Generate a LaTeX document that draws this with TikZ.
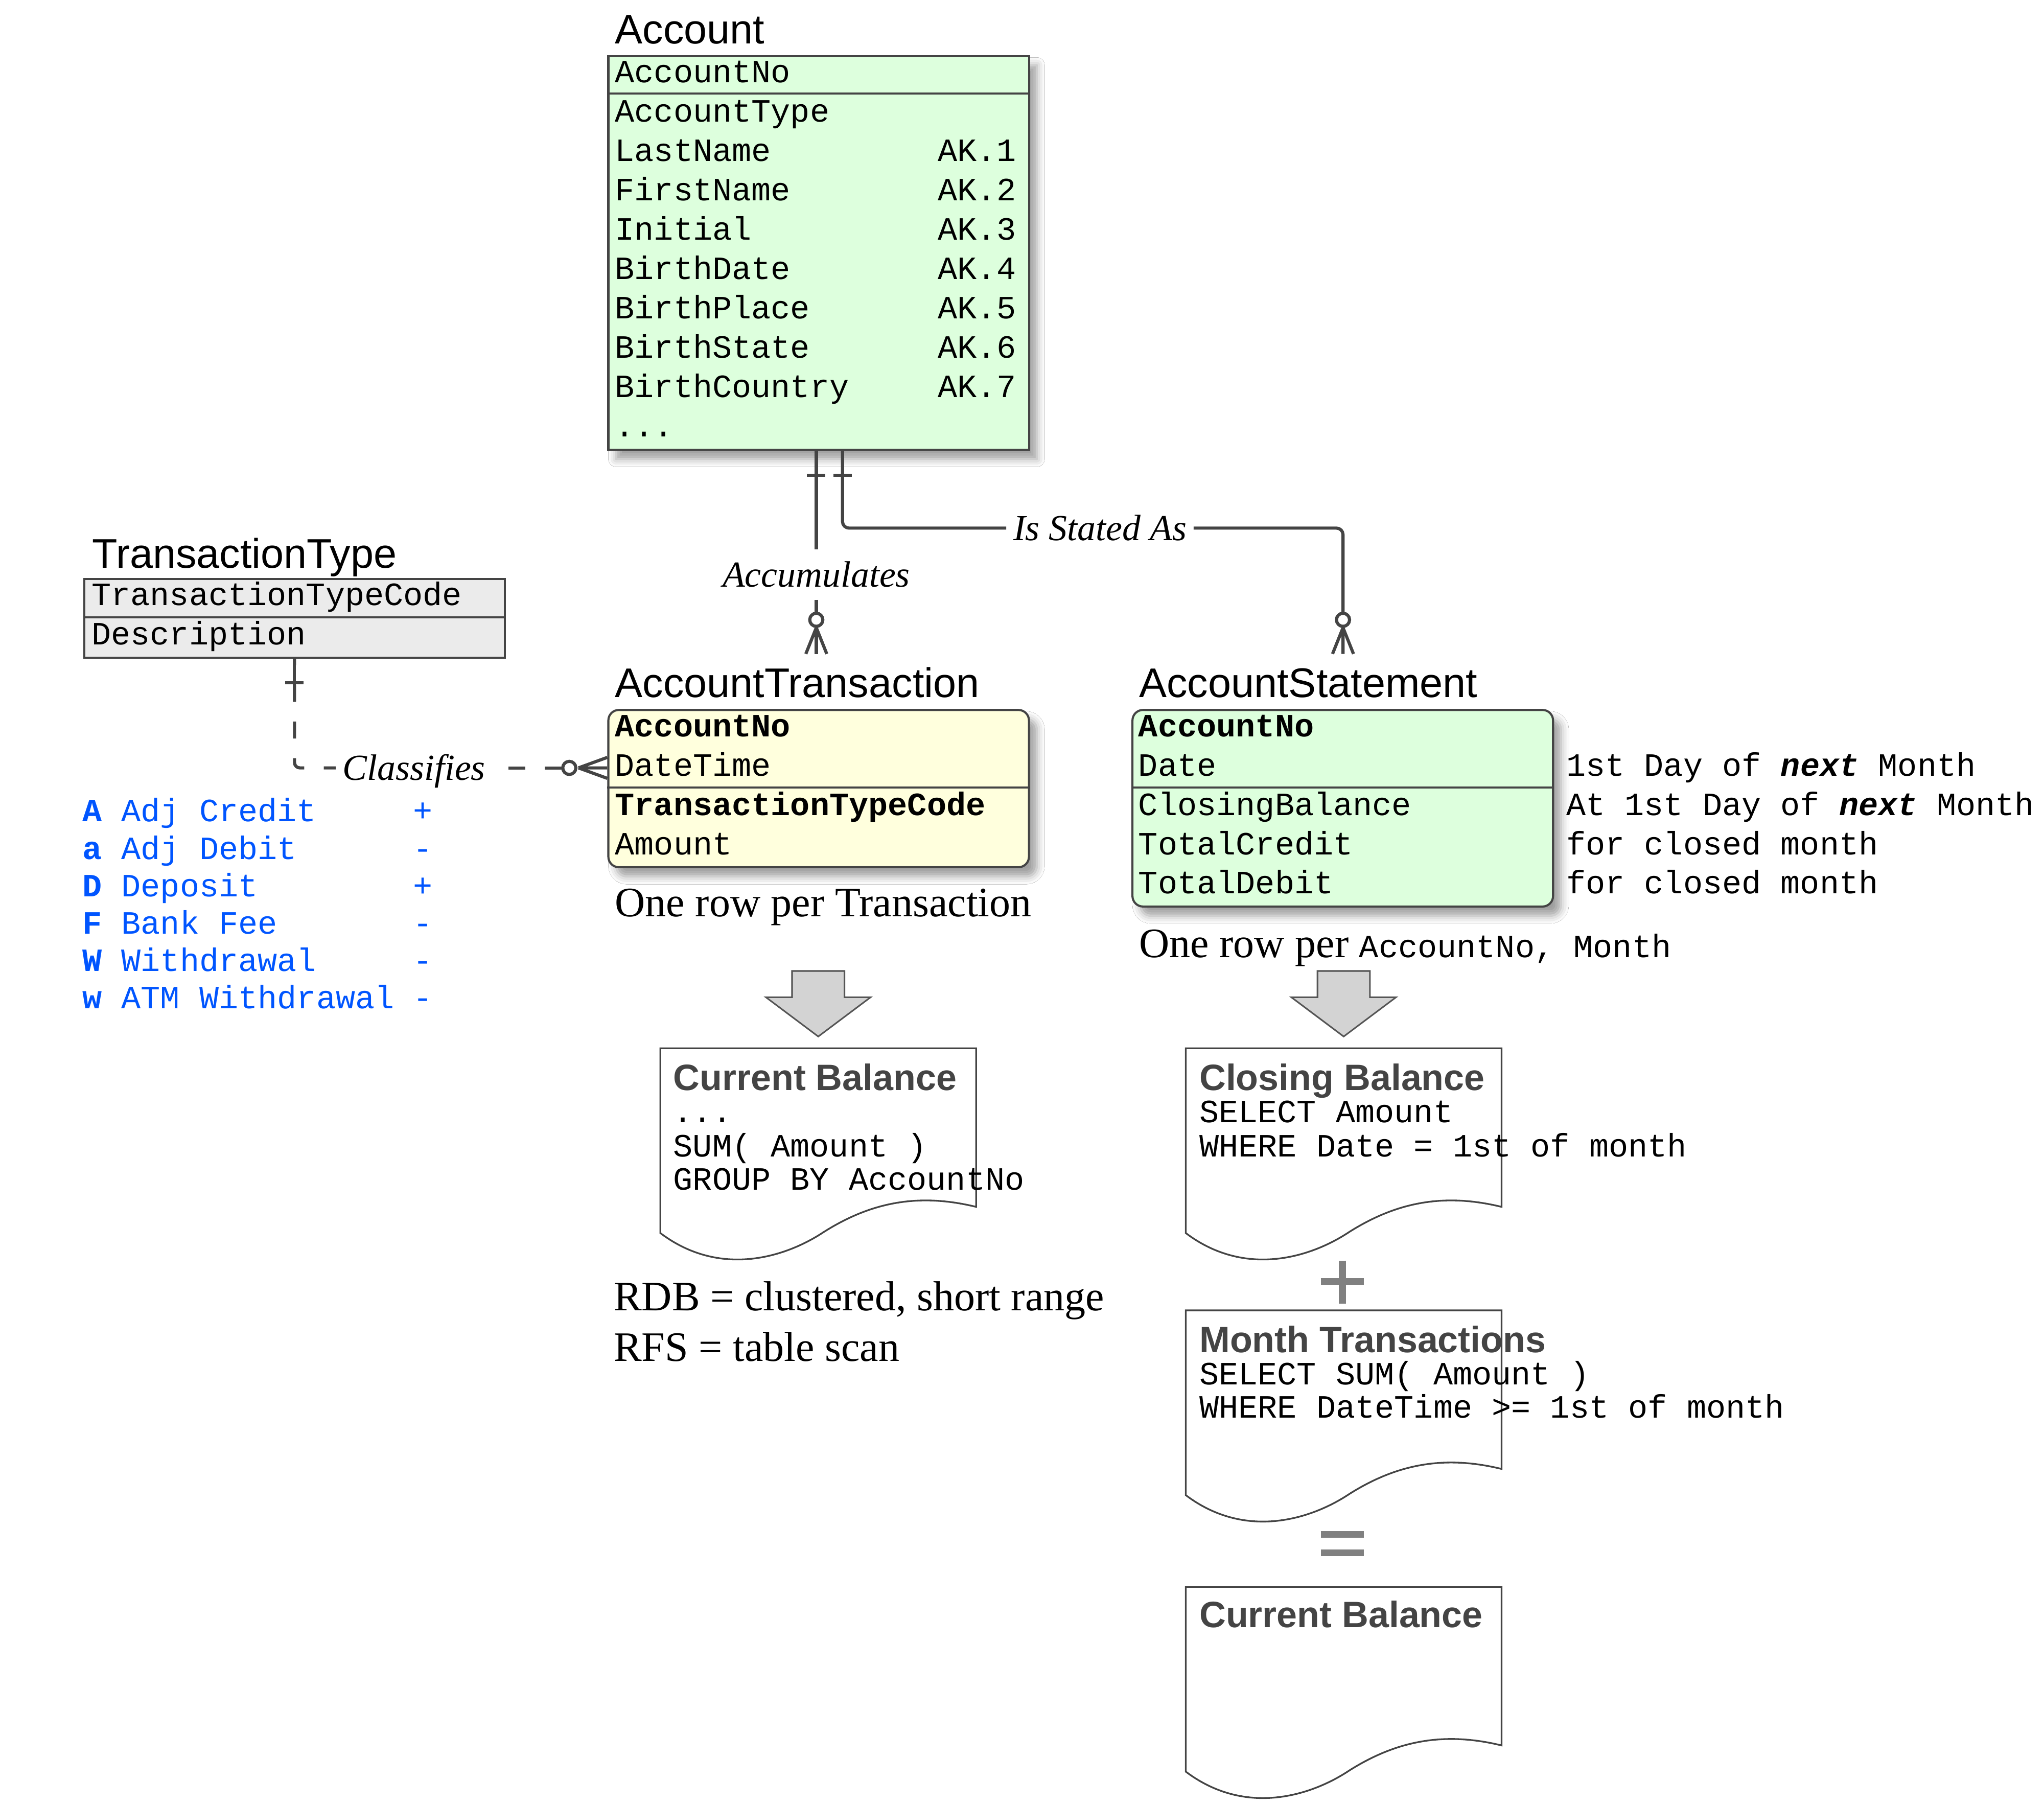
\documentclass[tikz,border=0pt]{standalone}
\usepackage{fontspec}
\setmainfont{Liberation Serif}
\setsansfont{Liberation Sans}
\setmonofont{Liberation Mono}
\usepackage{xcolor}
\usepackage{tikz}
\usetikzlibrary{calc,positioning,shadows.blur}

\definecolor{linegray}{HTML}{444444}
\definecolor{acctgreen}{HTML}{DDFFDD}
\definecolor{transyellow}{HTML}{FFFFDD}
\definecolor{typegray}{HTML}{EBEBEB}
\definecolor{legendblue}{HTML}{0055FF}
\definecolor{arrowfill}{HTML}{D3D3D3}
\definecolor{arrowline}{HTML}{555555}
\definecolor{opgray}{HTML}{808080}

\begin{document}
\begin{tikzpicture}[x=0.5pt, y=-0.5pt,
  entity/.style={draw=linegray, line width=0.8pt, anchor=north west, inner sep=0pt, minimum width=160.5pt},
  shadebox/.style={blur shadow={shadow xshift=3pt, shadow yshift=-3.5pt, shadow blur radius=3pt, shadow opacity=38}},
  title/.style={anchor=west, inner sep=0pt, font=\fontsize{15.8}{18}\sffamily, text height=11.3pt, text depth=0pt},
  field/.style={anchor=west, inner sep=0pt, font=\fontsize{12.4}{15}\ttfamily, text height=7.1pt, text depth=0pt},
  legend/.style={field, text=legendblue},
  note/.style={anchor=west, inner sep=0pt, font=\fontsize{16}{19}\rmfamily, text height=10.6pt, text depth=0pt},
  lab/.style={inner xsep=2.5pt, inner ysep=4.75pt, font=\fontsize{14}{16}\itshape, text height=9.3pt, text depth=0pt},
  conn/.style={draw=linegray, line width=1.2pt},
  conndash/.style={conn, dash pattern=on 6.5pt off 7.5pt},
  sepline/.style={draw=linegray, line width=0.8pt},
  blockarrow/.style={draw=arrowline, fill=arrowfill, line width=0.6pt},
  docline/.style={draw=linegray, line width=0.65pt, fill=white},
  doctitle/.style={anchor=west, inner sep=0pt, font=\fontsize{14}{16}\sffamily\bfseries, text=linegray, text height=10pt, text depth=0pt},
  op/.style={draw=opgray, line width=2.6pt}
]
\fill[white] (0,0) rectangle (1560,1377.1);
\useasboundingbox (0,0) rectangle (1560,1377.1);

% Account
\node[title] (acctTitle) at (469,22) {Account};
\node[entity, fill=acctgreen, shadebox, minimum height=150.25pt] (acct) at (463.5,42) {};
\draw[sepline] (acct.west |- 0,71.5) -- (acct.east |- 0,71.5);
\node[field] (acctNo) at (469,56) {AccountNo};
\node[field] (acctType) at (469,86) {AccountType};
\node[field] (lastName) at (469,116) {LastName};
\node[field] (firstName) at (469,146) {FirstName};
\node[field] (initial) at (469,176) {Initial};
\node[field] (birthDate) at (469,206) {BirthDate};
\node[field] (birthPlace) at (469,236) {BirthPlace};
\node[field] (birthState) at (469,266) {BirthState};
\node[field] (birthCountry) at (469,296) {BirthCountry};
\node[field] (acctMore) at (469,326) {...};
\node[field] (ak1) at (715.5,116) {AK.1};
\node[field] (ak2) at (715.5,146) {AK.2};
\node[field] (ak3) at (715.5,176) {AK.3};
\node[field] (ak4) at (715.5,206) {AK.4};
\node[field] (ak5) at (715.5,236) {AK.5};
\node[field] (ak6) at (715.5,266) {AK.6};
\node[field] (ak7) at (715.5,296) {AK.7};

% TransactionType
\node[title] (ttypeTitle) at (70,422) {TransactionType};
\node[entity, fill=typegray, minimum height=30pt] (ttype) at (63.5,441) {};
\draw[sepline] (ttype.west |- 0,471) -- (ttype.east |- 0,471);
\node[field] (ttCode) at (69.5,455) {TransactionTypeCode};
\node[field] (ttDesc) at (69.5,485) {Description};

% AccountTransaction
\node[title] (transTitle) at (469,521) {AccountTransaction};
\node[entity, fill=transyellow, shadebox, rounded corners=4pt, minimum height=60pt] (trans) at (463.5,541) {};
\draw[sepline] (trans.west |- 0,601) -- (trans.east |- 0,601);
\node[field] (trAcctNo) at (469,555) {\textbf{AccountNo}};
\node[field] (trDateTime) at (469,585) {DateTime};
\node[field] (trCode) at (469,615) {\textbf{TransactionTypeCode}};
\node[field] (trAmount) at (469,645) {Amount};
\node[note] (trRows) at (469,689) {One row per Transaction};

% AccountStatement
\node[title] (stmtTitle) at (869,521) {AccountStatement};
\node[entity, fill=acctgreen, shadebox, rounded corners=4pt, minimum height=75pt] (stmt) at (863.5,541) {};
\draw[sepline] (stmt.west |- 0,601) -- (stmt.east |- 0,601);
\node[field] (stAcctNo) at (868.5,555) {\textbf{AccountNo}};
\node[field] (stDate) at (868.5,585) {Date};
\node[field] (stClosing) at (868.5,615) {ClosingBalance};
\node[field] (stCredit) at (868.5,645) {TotalCredit};
\node[field] (stDebit) at (868.5,675) {TotalDebit};
\node[field] (noteDate) at (1195,585) {1st Day of \textbf{\textit{next}} Month};
\node[field] (noteClosing) at (1195,615) {At 1st Day of \textbf{\textit{next}} Month};
\node[field] (noteCredit) at (1195,645) {for closed month};
\node[field] (noteDebit) at (1195,675) {for closed month};
\node[note] (stRows) at (869,720) {One row per {\fontsize{12.4}{15}\ttfamily AccountNo, Month}};

% legend of transaction types
\node[legend] (lgA) at (62.5,620) {\textbf{A} Adj Credit};
\node[legend] (lga) at (62.5,648.5) {\textbf{a} Adj Debit};
\node[legend] (lgD) at (62.5,677) {\textbf{D} Deposit};
\node[legend] (lgF) at (62.5,705.5) {\textbf{F} Bank Fee};
\node[legend] (lgW) at (62.5,734) {\textbf{W} Withdrawal};
\node[legend] (lgw) at (62.5,762.5) {\textbf{w} ATM Withdrawal};
\node[legend] (sgA) at (315,620) {+};
\node[legend] (sga) at (315,648.5) {-};
\node[legend] (sgD) at (315,677) {+};
\node[legend] (sgF) at (315,705.5) {-};
\node[legend] (sgW) at (315,734) {-};
\node[legend] (sgw) at (315,762.5) {-};

% Accumulates
\node[lab] (accum) at (623,438.5) {Accumulates};
\coordinate (accEnd) at (623,499);
\draw[conn] (acct.south -| accum) -- (accum.north);
\draw[conn] (accum.south) -- (accEnd);
\draw[conn] ($(acct.south -| accum)+(-7,18.5)$) -- ++(14,0);
\draw[conn, fill=white] ($(accEnd)+(0,-26)$) circle (5);
\draw[conn] ($(accEnd)+(0,-20)$) -- ++(-8,20) ($(accEnd)+(0,-20)$) -- ++(8,20);

% Is Stated As
\node[lab] (stated) at (839.5,403) {Is Stated As};
\coordinate (stTop) at ($(acct.south -| accum)+(20,0)$);
\coordinate (stEnd) at (1025,499);
\draw[conn, rounded corners=2.5pt] (stTop) |- (stated.west);
\draw[conn, rounded corners=2.5pt] (stated.east) -| (stEnd);
\draw[conn] ($(stTop)+(-7,18.5)$) -- ++(14,0);
\draw[conn, fill=white] ($(stEnd)+(0,-26)$) circle (5);
\draw[conn] ($(stEnd)+(0,-20)$) -- ++(-8,20) ($(stEnd)+(0,-20)$) -- ++(8,20);

% Classifies
\node[lab] (classif) at (316,586) {Classifies};
\coordinate (clEnd) at (trans.west |- classif);
\draw[conndash, dash phase=4pt, rounded corners=2pt] (ttype.south) |- (classif.west);
\draw[conndash, dash phase=8pt] (classif.east) -- ($(clEnd)+(-34,0)$);
\draw[conn] (ttype.south) -- ++(0,33);
\draw[conn] ($(ttype.south)+(-7,18.5)$) -- ++(14,0);
\draw[conn, fill=white] ($(clEnd)+(-29,0)$) circle (5);
\draw[conn] ($(clEnd)+(-22,0)$) -- ++(22,-8) ($(clEnd)+(-22,0)$) -- (clEnd) ($(clEnd)+(-22,0)$) -- ++(22,8);

% block arrows
\begin{scope}[shift={(624.5,741)}]
\draw[blockarrow] (-20,0) -- (20,0) -- (20,20) -- (40,20) -- (0,50) -- (-40,20) -- (-20,20) -- cycle;
\end{scope}
\begin{scope}[shift={(1025.5,741)}]
\draw[blockarrow] (-20,0) -- (20,0) -- (20,20) -- (40,20) -- (0,50) -- (-40,20) -- (-20,20) -- cycle;
\end{scope}

% Current Balance from transactions
\begin{scope}[shift={(504,800)}]
\draw[docline] (0,0) -- (241,0) -- (241,121) .. controls (196,110) and (160,118) .. (125,140) .. controls (95,160) and (45,175) .. (0,141) -- cycle;
\node[doctitle] (curTitle) at (9.5,22) {Current Balance};
\node[field] (curDots) at (9.5,49.5) {...};
\node[field] (curSum) at (9.5,75.5) {SUM( Amount )};
\node[field] (curGroup) at (9.5,101) {GROUP BY AccountNo};
\end{scope}
\node[note] (rdb) at (468,989.5) {RDB = clustered, short range};
\node[note] (rfs) at (468,1028) {RFS = table scan};

% Closing Balance
\begin{scope}[shift={(905,800)}]
\draw[docline] (0,0) -- (241,0) -- (241,121) .. controls (196,110) and (160,118) .. (125,140) .. controls (95,160) and (45,175) .. (0,141) -- cycle;
\node[doctitle] (closeTitle) at (10,22) {Closing Balance};
\node[field] (closeSel) at (10,49.5) {SELECT Amount};
\node[field] (closeWhere) at (10,75.5) {WHERE Date = 1st of month};
\end{scope}
\draw[op] (1008,978) -- (1041,978) (1024.5,962) -- (1024.5,995);

% Month Transactions
\begin{scope}[shift={(905,1000)}]
\draw[docline] (0,0) -- (241,0) -- (241,121) .. controls (196,110) and (160,118) .. (125,140) .. controls (95,160) and (45,175) .. (0,141) -- cycle;
\node[doctitle] (monthTitle) at (10,22) {Month Transactions};
\node[field] (monthSel) at (10,49.5) {SELECT SUM( Amount )};
\node[field] (monthWhere) at (10,75) {WHERE DateTime >= 1st of month};
\end{scope}
\draw[op] (1008,1171) -- (1041,1171) (1008,1185) -- (1041,1185);

% Current Balance from statement
\begin{scope}[shift={(905,1211)}]
\draw[docline] (0,0) -- (241,0) -- (241,121) .. controls (196,110) and (160,118) .. (125,140) .. controls (95,160) and (45,175) .. (0,141) -- cycle;
\node[doctitle] (balTitle) at (10,21) {Current Balance};
\end{scope}
\end{tikzpicture}
\end{document}
